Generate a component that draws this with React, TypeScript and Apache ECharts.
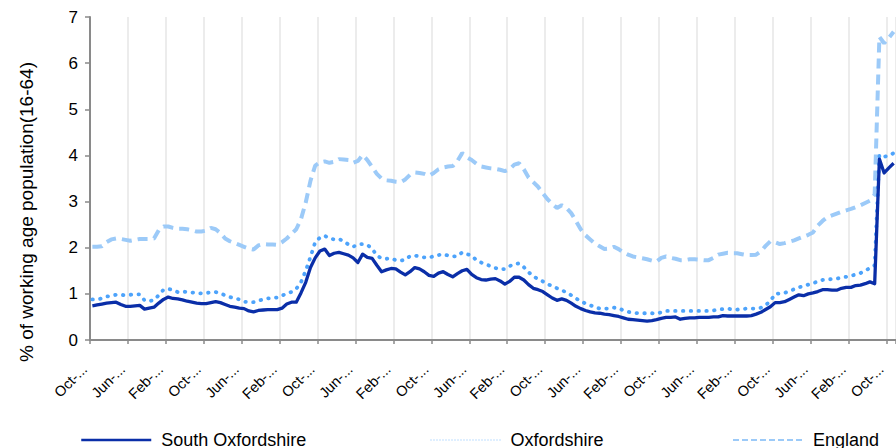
import React, { useEffect, useRef } from "react";
import * as echarts from "echarts";

const MONTHS = ["Jan", "Feb", "Mar", "Apr", "May", "Jun", "Jul", "Aug", "Sep", "Oct", "Nov", "Dec"];
const START_MONTH = 9; // October
const START_YEAR = 2006;
const N_MONTHS = 170;
const categories: string[] = [];
for (let i = 0; i < N_MONTHS; i++) {
  const k = START_MONTH + i;
  categories.push(`${MONTHS[k % 12]}-${START_YEAR + Math.floor(k / 12)}`);
}

const southOxfordshire = [
  0.74, 0.76, 0.78, 0.8, 0.81, 0.82, 0.77, 0.73, 0.73, 0.74,
  0.75, 0.67, 0.69, 0.71, 0.8, 0.88, 0.93, 0.9, 0.89, 0.87,
  0.84, 0.82, 0.8, 0.79, 0.79, 0.81, 0.83, 0.81, 0.77, 0.73,
  0.71, 0.69, 0.68, 0.63, 0.61, 0.64, 0.65, 0.66, 0.66, 0.66,
  0.69, 0.78, 0.82, 0.82, 1.02, 1.25, 1.57, 1.78, 1.93, 1.97,
  1.83, 1.88, 1.9, 1.87, 1.84, 1.78, 1.68, 1.86, 1.79, 1.77,
  1.62, 1.48, 1.52, 1.55, 1.54, 1.47, 1.41, 1.48, 1.57, 1.54,
  1.48, 1.4, 1.38, 1.45, 1.48, 1.42, 1.37, 1.44, 1.5, 1.53,
  1.42, 1.35, 1.31, 1.3, 1.32, 1.33, 1.28, 1.21, 1.27, 1.36,
  1.36, 1.3, 1.2, 1.12, 1.09, 1.05, 0.98, 0.91, 0.86, 0.89,
  0.86, 0.8, 0.73, 0.68, 0.64, 0.61, 0.59, 0.58, 0.56, 0.55,
  0.53, 0.51, 0.48, 0.45, 0.44, 0.43, 0.42, 0.41, 0.42, 0.44,
  0.47, 0.49, 0.49, 0.5, 0.45, 0.47, 0.48, 0.48, 0.49, 0.49,
  0.49, 0.5, 0.5, 0.53, 0.52, 0.52, 0.52, 0.52, 0.52, 0.53,
  0.56, 0.6, 0.66, 0.72, 0.81, 0.81, 0.83, 0.88, 0.93, 0.98,
  0.96, 1.0, 1.02, 1.05, 1.09, 1.09, 1.08, 1.08, 1.12, 1.14,
  1.14, 1.18, 1.19, 1.22, 1.26, 1.22, 3.92, 3.62, 3.73, 3.83,
];

const oxfordshire = [
  0.88, 0.88, 0.9, 0.94, 0.96, 0.98, 0.98, 0.97, 0.98, 0.99,
  0.99, 0.86, 0.84, 0.87, 0.97, 1.09, 1.11, 1.08, 1.04, 1.05,
  1.04, 1.03, 1.02, 1.01, 1.02, 1.03, 1.04, 1.01, 0.97, 0.93,
  0.9, 0.88, 0.83, 0.82, 0.82, 0.85, 0.88, 0.9, 0.91, 0.92,
  0.96, 1.01, 1.04, 1.11, 1.25, 1.5, 1.8, 2.12, 2.22, 2.26,
  2.2, 2.18, 2.19, 2.14, 2.07, 2.02, 2.07, 2.08, 2.06, 1.98,
  1.83, 1.77, 1.76, 1.77, 1.73, 1.72, 1.74, 1.82, 1.83, 1.81,
  1.79, 1.78, 1.82, 1.84, 1.86, 1.83, 1.81, 1.82, 1.9, 1.86,
  1.83, 1.73, 1.68, 1.64, 1.6, 1.56, 1.53, 1.54, 1.6, 1.65,
  1.66, 1.58, 1.47, 1.38, 1.32, 1.27, 1.21, 1.17, 1.12, 1.08,
  1.03, 0.97, 0.9, 0.84, 0.79, 0.75, 0.72, 0.68, 0.68, 0.68,
  0.7, 0.69, 0.64, 0.61, 0.59, 0.58, 0.58, 0.58, 0.58, 0.57,
  0.6, 0.63, 0.63, 0.63, 0.63, 0.63, 0.63, 0.63, 0.63, 0.63,
  0.63, 0.64, 0.66, 0.67, 0.68, 0.66, 0.66, 0.67, 0.68, 0.68,
  0.68, 0.7, 0.76, 0.84, 1.0, 1.01, 1.02, 1.06, 1.1, 1.14,
  1.17, 1.2, 1.23, 1.27, 1.3, 1.31, 1.32, 1.33, 1.35, 1.37,
  1.39, 1.42, 1.45, 1.5, 1.56, 1.62, 4.01, 3.97, 4.0, 4.05,
];

const england = [
  2.02, 2.02, 2.03, 2.12, 2.18, 2.2, 2.19, 2.17, 2.15, 2.17,
  2.19, 2.19, 2.19, 2.2, 2.38, 2.46, 2.46, 2.43, 2.41, 2.41,
  2.4, 2.38, 2.35, 2.35, 2.37, 2.43, 2.4, 2.32, 2.2, 2.14,
  2.1, 2.06, 2.02, 1.98, 1.96, 2.05, 2.08, 2.07, 2.07, 2.06,
  2.12, 2.2, 2.3, 2.4, 2.62, 2.98, 3.45, 3.78, 3.85, 3.87,
  3.84, 3.86, 3.92, 3.91, 3.9, 3.84, 3.88, 4.01, 3.9, 3.75,
  3.6, 3.5, 3.46, 3.45, 3.43, 3.42, 3.48, 3.58, 3.63, 3.62,
  3.6, 3.56, 3.62, 3.7, 3.74, 3.76, 3.77, 3.88, 4.05, 3.96,
  3.9, 3.82, 3.76, 3.74, 3.72, 3.71, 3.69, 3.66, 3.7, 3.8,
  3.83, 3.7, 3.52, 3.42, 3.32, 3.18, 3.05, 2.95, 2.86, 2.92,
  2.86, 2.75, 2.58, 2.4, 2.27, 2.18, 2.09, 2.03, 1.97, 1.98,
  2.02, 1.97, 1.9, 1.85, 1.81, 1.79, 1.77, 1.75, 1.72, 1.7,
  1.78, 1.81, 1.78, 1.76, 1.73, 1.73, 1.75, 1.75, 1.74, 1.73,
  1.73, 1.78, 1.85, 1.87, 1.89, 1.88, 1.88, 1.86, 1.84, 1.84,
  1.85, 1.92, 2.04, 2.14, 2.12, 2.08, 2.1, 2.13, 2.16, 2.2,
  2.24, 2.28, 2.33, 2.48, 2.58, 2.66, 2.7, 2.74, 2.78, 2.81,
  2.84, 2.88, 2.92, 2.97, 3.02, 3.15, 6.57, 6.43, 6.55, 6.68,
];

const yTicks = [0, 1, 2, 3, 4, 5, 6, 7];
const Y_NAME = "% of working age population(16-64)";
const FONT = "'Liberation Sans', Arial, sans-serif";

const C_SOUTH = "#0a2ea8";
const C_OXON = "#4da3fb";
const C_ENG = "#9ccaf8";

const legendBase = {
  top: 426,
  itemWidth: 70,
  itemHeight: 14,
  textStyle: { fontSize: 18, color: "#000", fontFamily: FONT, padding: [0, 0, 0, 5] },
};
const hiddenSymbol = { color: "rgba(0,0,0,0)", borderWidth: 0, opacity: 0 };

export default function App() {
  const ref = useRef<HTMLDivElement>(null);
  useEffect(() => {
    if (!ref.current) return;
    const chart = echarts.init(ref.current, undefined, { renderer: "svg" });
    chart.setOption({
      animation: false,
      textStyle: { fontFamily: FONT },
      grid: { left: 90, right: 0, top: 17, bottom: 108, containLabel: false },
      legend: [
        {
          ...legendBase,
          left: 75,
          data: [{ name: "South Oxfordshire", itemStyle: hiddenSymbol, lineStyle: { width: 2.5, color: C_SOUTH, type: "solid" } }],
        },
        {
          ...legendBase,
          left: 425,
          data: [{ name: "Oxfordshire", itemStyle: hiddenSymbol, lineStyle: { width: 1, color: "#b8dcff", type: [1, 2] } }],
        },
        {
          ...legendBase,
          left: 727,
          data: [{ name: "England", itemStyle: hiddenSymbol, lineStyle: { width: 2, color: C_ENG, type: [6, 3] } }],
        },
      ],
      xAxis: {
        type: "category",
        data: categories,
        boundaryGap: true,
        axisLine: { lineStyle: { color: "#8a8a8a", width: 2 } },
        axisTick: { show: true, interval: 7, length: 4, lineStyle: { color: "#8a8a8a", width: 1.5 } },
        axisLabel: {
          interval: 7,
          rotate: 45,
          margin: 19,
          padding: [0, 11, 0, 0],
          fontSize: 14.5,
          color: "#000",
          fontFamily: FONT,
          formatter: (v: string) => v.slice(0, 4) + "...",
        },
        splitLine: { show: true, interval: 7, lineStyle: { color: "#e6e6e6", width: 1.5 } },
      },
      yAxis: {
        type: "value",
        min: yTicks[0],
        max: yTicks[yTicks.length - 1],
        interval: 1,
        axisLine: { show: true, lineStyle: { color: "#8a8a8a", width: 2 } },
        axisTick: { show: true, length: 5, lineStyle: { color: "#8a8a8a", width: 1.5 } },
        axisLabel: { fontSize: 17, color: "#000", margin: 12, fontFamily: FONT },
        splitLine: { show: false },
      },
      graphic: [
        {
          type: "text",
          x: 26,
          y: 212,
          rotation: Math.PI / 2,
          style: {
            text: Y_NAME,
            fontSize: 19,
            fontFamily: FONT,
            fill: "#000",
            align: "center",
            verticalAlign: "middle",
          },
        },
      ],
      series: [
        {
          name: "South Oxfordshire",
          type: "line",
          data: southOxfordshire,
          symbol: "none",
          z: 5,
          lineStyle: { color: C_SOUTH, width: 3.3, join: "round" },
          itemStyle: { color: C_SOUTH },
        },
        {
          name: "Oxfordshire",
          type: "line",
          data: oxfordshire,
          symbol: "none",
          z: 4,
          lineStyle: { color: C_OXON, width: 3.8, type: [0.5, 7.3], cap: "round" },
          itemStyle: { color: C_OXON },
        },
        {
          name: "England",
          type: "line",
          data: england,
          symbol: "none",
          z: 3,
          lineStyle: { color: C_ENG, width: 4, type: [10, 6], cap: "butt" },
          itemStyle: { color: C_ENG },
        },
      ],
    });
    return () => chart.dispose();
  }, []);
  return (
    <div
      ref={ref}
      style={{ position: "fixed", left: 0, top: 0, width: 896, height: 448, background: "#fff" }}
    />
  );
}
